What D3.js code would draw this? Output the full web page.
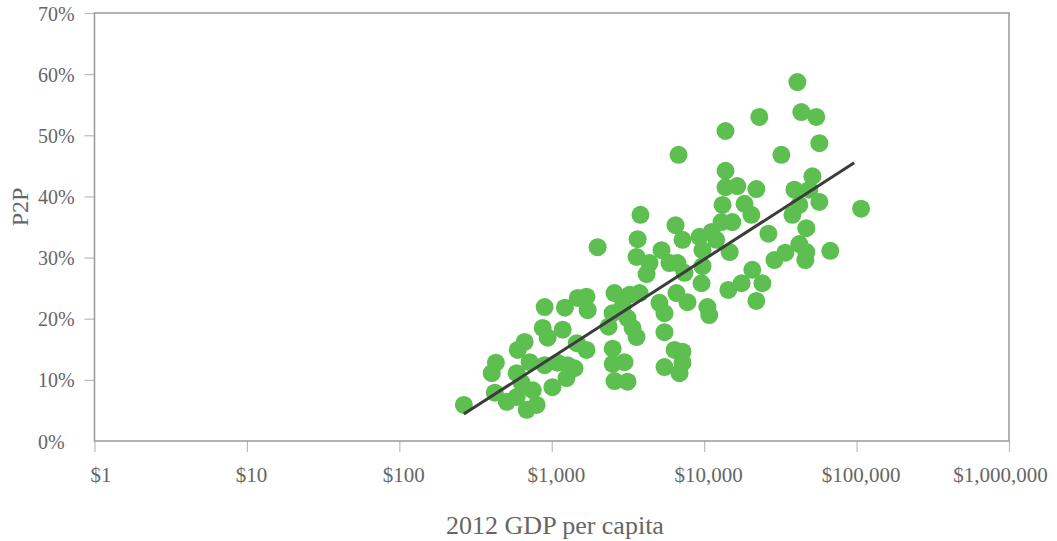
<!DOCTYPE html>
<html lang="en">
  <head>
    <meta charset="UTF-8" />
    <script src="https://d3js.org/d3.v7.min.js"></script>
    <title>P2P vs GDP per capita</title>
    <style>
      body {
        margin: 0;
        background: #fff;
      }
      svg text {
        font-family: Georgia, 'Liberation Serif', serif;
        fill: #666;
      }
    </style>
  </head>
  <body>
    <svg id="chart" width="1057" height="541"></svg>
  </body>
  <script>
    // 2012 GDP per capita (USD), one entry per country
    const gdp = [
      265, 430, 404, 423, 507, 589, 598, 664, 717, 635, 589, 685, 796, 750,
      898, 872, 940, 1220, 1180, 1010, 1090, 1270, 1250, 1410, 1460, 1690,
      1480, 1690, 1720, 2000, 898,
      2580, 3240, 3770, 2510, 2360, 3140, 3390, 3600, 2510, 2510, 3000, 2580,
      3140, 3820, 3660, 3600, 4190, 4380, 5250, 5920, 6680, 6490, 6790, 7210,
      7430, 5090, 5490, 6580, 7770, 5490, 5490, 6390, 7210, 6890, 7210,
      9320, 9750, 9750, 9600, 10500, 10800, 2920,
      11200, 13000, 15300, 13200, 18400, 20400, 13800, 13800, 13800, 16500,
      22000, 23000, 32100, 40900, 43400, 54400, 57000, 39100, 51300, 57000,
      42100, 37900, 46800, 107000, 42100, 26400, 14700, 28900, 34100, 46100,
      46800, 67200, 20700, 17600, 14400, 24100, 22000, 12000, 49000,
    ]
    // P2P share (%), same order
    const p2p = [
      5.9, 12.8, 11.1, 7.9, 6.4, 11.1, 14.9, 16.2, 12.9, 9.5, 7.2, 5.1, 5.9,
      8.3, 21.9, 18.5, 16.9, 21.8, 18.2, 8.8, 12.8, 12.4, 10.3, 11.9, 16.0,
      14.9, 23.4, 23.6, 21.4, 31.7, 12.4,
      24.2, 23.9, 24.2, 20.9, 18.7, 20.1, 18.5, 17.0, 15.1, 12.6, 12.9, 9.8,
      9.7, 37.0, 33.0, 30.1, 27.3, 29.1, 31.2, 29.1, 29.1, 35.3, 46.8, 32.9,
      27.5, 22.6, 20.9, 24.2, 22.7, 17.8, 12.1, 14.9, 14.6, 11.1, 12.8,
      33.4, 31.2, 28.6, 25.8, 21.9, 20.6, 22.1,
      34.2, 35.8, 35.8, 38.6, 38.8, 37.0, 50.7, 44.2, 41.5, 41.7,
      41.2, 53.0, 46.8, 58.7, 53.8, 53.0, 48.7, 41.1, 43.3, 39.1,
      38.6, 37.0, 34.8, 38.0, 32.2, 33.9, 30.9, 29.6, 30.8, 29.6,
      30.9, 31.1, 28.0, 25.8, 24.7, 25.8, 22.9, 32.9, 41.1,
    ]
    // trend line end points
    const trendGdp = [265, 96500]
    const trendP2p = [4.4, 45.5]

    const xTicks = [1, 10, 100, 1000, 10000, 100000, 1000000]
    const yTicks = [0, 10, 20, 30, 40, 50, 60, 70]

    const svg = d3.select('#chart')
    const box = { left: 94.5, right: 1009, top: 13, bottom: 441 }

    const x = d3.scaleLog().domain([1, 1000000]).range([box.left, box.right])
    const y = d3.scaleLinear().domain([0, 70]).range([box.bottom, box.top])

    const points = gdp.map((g, i) => ({ gdp: g, p2p: p2p[i] }))

    // x axis
    const xAxis = svg
      .append('g')
      .attr('transform', 'translate(0,' + box.bottom + ')')
      .call(
        d3
          .axisBottom(x)
          .tickValues(xTicks)
          .tickSize(11)
          .tickFormat((d) => '$' + d3.format(',')(d)),
      )
    xAxis.select('.domain').remove()
    xAxis
      .selectAll('.tick line')
      .attr('stroke', '#bbb')
      .attr('stroke-width', 1.2)
    xAxis
      .selectAll('.tick text')
      .attr('y', 34)
      .attr('dy', '0.35em')
      .attr('dx', (d) => (d === 1000000 ? -9 : d === 1 ? 6 : 4))
      .style('font-size', '21px')
      .attr('fill', '#666')

    // y axis
    const yAxis = svg
      .append('g')
      .attr('transform', 'translate(' + box.left + ',0)')
      .call(
        d3
          .axisLeft(y)
          .tickValues(yTicks)
          .tickSize(10)
          .tickFormat((d) => d + '%'),
      )
    yAxis.select('.domain').remove()
    yAxis
      .selectAll('.tick line')
      .attr('stroke', '#bbb')
      .attr('stroke-width', 1.2)
      .attr('opacity', (d) => (d === 0 ? 0 : 1))
    yAxis
      .selectAll('.tick text')
      .attr('text-anchor', 'start')
      .attr('x', 38 - box.left)
      .attr('dy', '0.35em')
      .style('font-size', '20px')
      .attr('fill', '#666')

    // frame
    svg
      .append('rect')
      .attr('x', box.left)
      .attr('y', box.top)
      .attr('width', box.right - box.left)
      .attr('height', box.bottom - box.top)
      .attr('fill', 'none')
      .attr('stroke', '#999')
      .attr('stroke-width', 1.5)

    // dots
    svg
      .append('g')
      .selectAll('circle')
      .data(points)
      .enter()
      .append('circle')
      .attr('cx', (d) => x(d.gdp))
      .attr('cy', (d) => y(d.p2p))
      .attr('r', 9)
      .attr('fill', '#5cbf50')

    // trend
    svg
      .append('line')
      .attr('x1', x(trendGdp[0]))
      .attr('y1', y(trendP2p[0]))
      .attr('x2', x(trendGdp[1]))
      .attr('y2', y(trendP2p[1]))
      .attr('stroke', '#3c3c3c')
      .attr('stroke-width', 3)

    // axis titles
    svg
      .append('text')
      .attr('x', 555)
      .attr('y', 534)
      .attr('text-anchor', 'middle')
      .style('font-size', '26px')
      .attr('fill', '#555')
      .text('2012 GDP per capita')

    svg
      .append('text')
      .attr('transform', 'translate(28,207) rotate(-90)')
      .attr('text-anchor', 'middle')
      .style('font-size', '24px')
      .attr('fill', '#555')
      .text('P2P')
  </script>
</html>
